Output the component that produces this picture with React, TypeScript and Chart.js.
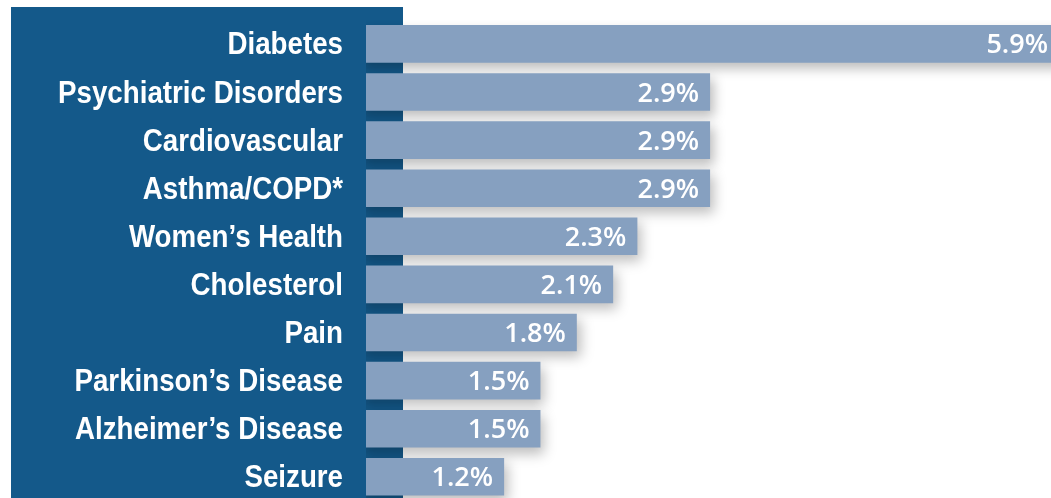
import React, { useEffect, useRef } from "react";
import { Chart, registerables } from "chart.js";

Chart.register(...registerables);

const categories = [
  "Diabetes",
  "Psychiatric Disorders",
  "Cardiovascular",
  "Asthma/COPD*",
  "Women\u2019s Health",
  "Cholesterol",
  "Pain",
  "Parkinson\u2019s Disease",
  "Alzheimer\u2019s Disease",
  "Seizure",
];

const values = [5.9, 2.9, 2.9, 2.9, 2.3, 2.1, 1.8, 1.5, 1.5, 1.2];

const valueLabels = values.map((v) => v.toFixed(1) + "%");

const PANEL_COLOR = "#14598a";
const BAR_COLOR = "#86a0c0";
const CANVAS_W = 1070;
const CANVAS_H = 520;
const LABEL_SQUEEZE = 0.866;

export default function App() {
  const ref = useRef<HTMLCanvasElement | null>(null);

  useEffect(() => {
    const canvas = ref.current;
    if (!canvas) return;

    const decor = {
      id: "decor",
      beforeDraw(chart: any) {
        const ctx = chart.ctx;
        ctx.save();
        ctx.fillStyle = "#ffffff";
        ctx.fillRect(0, 0, chart.width, chart.height);
        ctx.fillStyle = PANEL_COLOR;
        ctx.fillRect(11, 7, 392, chart.height);
        ctx.restore();
      },
      beforeDatasetDraw(chart: any) {
        const ctx = chart.ctx;
        ctx.save();
        ctx.shadowColor = "rgba(0,0,0,0.26)";
        ctx.shadowBlur = 12;
        ctx.shadowOffsetX = 4;
        ctx.shadowOffsetY = 6;
      },
      afterDatasetDraw(chart: any) {
        chart.ctx.restore();
      },
      afterDatasetsDraw(chart: any) {
        const ctx = chart.ctx;
        const meta = chart.getDatasetMeta(0);
        const area = chart.chartArea;
        ctx.save();
        ctx.fillStyle = "#ffffff";
        meta.data.forEach((el: any, i: number) => {
          ctx.save();
          ctx.font = 'bold 32px "Liberation Sans", Arial, sans-serif';
          ctx.textAlign = "right";
          ctx.textBaseline = "alphabetic";
          ctx.translate(343, el.y + 10.5);
          ctx.scale(LABEL_SQUEEZE, 1);
          ctx.fillText(categories[i], 0, 0);
          ctx.restore();
          ctx.font = '600 27px "Open Sans", sans-serif';
          ctx.textAlign = "right";
          ctx.textBaseline = "alphabetic";
          const xEnd = Math.min(el.x, area.right) - 11;
          ctx.fillText(valueLabels[i], xEnd, el.y + 9.5);
        });
        ctx.restore();
      },
    };

    const chart = new Chart(canvas, {
      type: "bar",
      data: {
        labels: categories,
        datasets: [
          {
            data: values,
            backgroundColor: BAR_COLOR,
            borderWidth: 0,
            barPercentage: 0.782,
            categoryPercentage: 1,
          },
        ],
      },
      options: {
        indexAxis: "y",
        responsive: false,
        animation: false,
        devicePixelRatio: 1,
        layout: {
          padding: {
            left: 366,
            right: CANVAS_W - 1059,
            top: 19.85,
            bottom: CANVAS_H - 500.85,
          },
        },
        scales: {
          x: { display: false, min: 0.06, max: 5.78 },
          y: { display: false },
        },
        plugins: {
          legend: { display: false },
          tooltip: { enabled: false },
        },
      },
      plugins: [decor],
    } as any);

    return () => chart.destroy();
  }, []);

  return (
    <div
      style={{
        position: "fixed",
        left: 0,
        top: 0,
        width: 1051,
        height: 498,
        overflow: "hidden",
        background: "#ffffff",
      }}
    >
      <canvas
        ref={ref}
        width={CANVAS_W}
        height={CANVAS_H}
        style={{ width: CANVAS_W, height: CANVAS_H, display: "block" }}
      />
    </div>
  );
}
